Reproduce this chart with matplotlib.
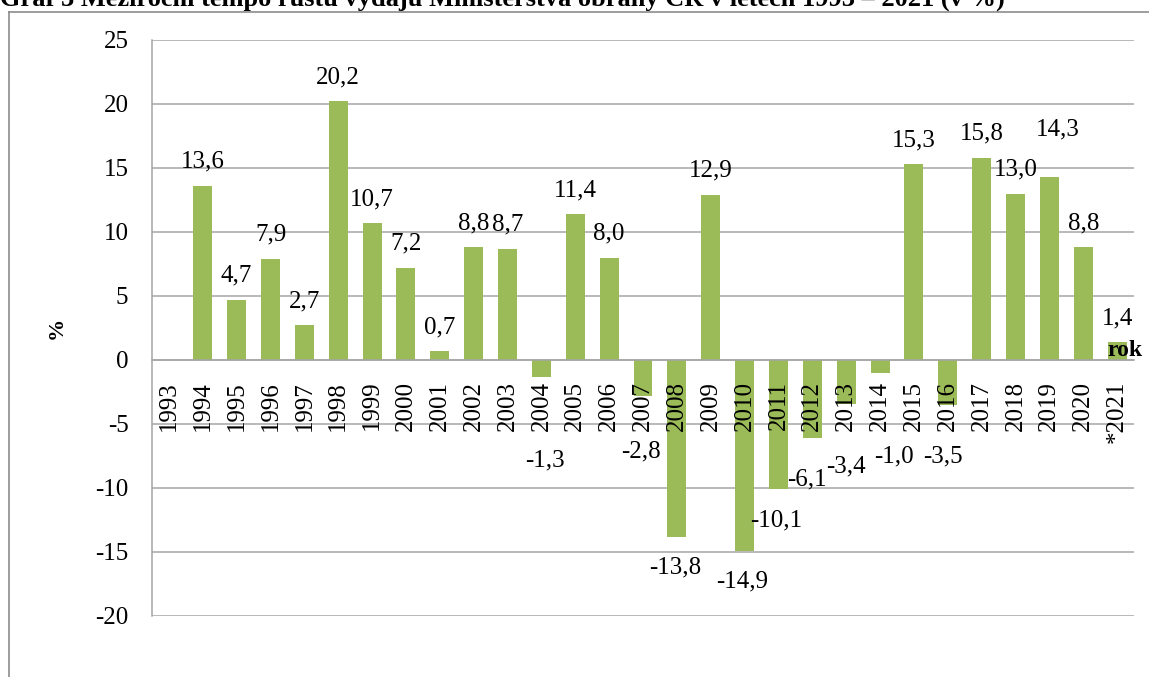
import numpy as np
import matplotlib
matplotlib.use("Agg")
import matplotlib.pyplot as plt
from matplotlib.lines import Line2D

# ---------------- data ----------------
years = ["1993", "1994", "1995", "1996", "1997", "1998", "1999", "2000", "2001",
         "2002", "2003", "2004", "2005", "2006", "2007", "2008", "2009", "2010",
         "2011", "2012", "2013", "2014", "2015", "2016", "2017", "2018", "2019",
         "2020", "*2021"]
values = [np.nan, 13.6, 4.7, 7.9, 2.7, 20.2, 10.7, 7.2, 0.7,
          8.8, 8.7, -1.3, 11.4, 8.0, -2.8, -13.8, 12.9, -14.9,
          -10.1, -6.1, -3.4, -1.0, 15.3, -3.5, 15.8, 13.0, 14.3,
          8.8, 1.4]
y_ticks = [-20, -15, -10, -5, 0, 5, 10, 15, 20, 25]

title = "Graf 3 Meziroční tempo růstu výdajů Ministerstva obrany ČR v letech 1993 – 2021 (v %)"
y_title = "%"
x_title = "rok"

# label offsets (pixels) relative to the bar end, for manually moved labels
label_offsets = {
    "2004": (4, -90), "2007": (-2, -62), "2012": (-5, -47), "2013": (0, -69),
    "2014": (14, -90), "2016": (-5, -58), "2019": (8, 42),
}
POS_OFF = (0, 18)
NEG_OFF = (-2, -37)

# ---------------- style ----------------
W, H = 1149, 677
BAR = "#9BBB59"
GRID = "#A6A6A6"
SERIF = ["Liberation Serif", "DejaVu Serif"]
plt.rcParams["font.family"] = SERIF

fig = plt.figure(figsize=(W / 100, H / 100), dpi=100)
left, right, top, bottom = 152, 1134, 40, 616
ax = fig.add_axes([left / W, (H - bottom) / H, (right - left) / W, (bottom - top) / H])

x = np.arange(len(years))
ax.bar(x, values, width=0.56, color=BAR, zorder=2)

ax.set_xlim(-0.5, len(years) - 0.5)
ax.set_ylim(min(y_ticks), max(y_ticks))

for yv in y_ticks:
    ax.axhline(yv, color=GRID, lw=1.1, zorder=0.5)

for s in ["top", "right"]:
    ax.spines[s].set_visible(False)
ax.spines["left"].set_color(GRID)
ax.spines["left"].set_linewidth(1.1)
ax.spines["bottom"].set_position(("data", 0))
ax.spines["bottom"].set_color(GRID)
ax.spines["bottom"].set_linewidth(1.1)

ax.set_yticks(y_ticks)
ax.set_yticklabels([str(v) for v in y_ticks], fontsize=18)
ax.set_xticks(x)
ax.set_xticklabels(years, rotation=90, fontsize=18)
ax.tick_params(axis="y", length=0, pad=17)
ax.tick_params(axis="x", length=0, pad=15)
ax.xaxis.set_zorder(5)

for xi, yr, v in zip(x, years, values):
    if np.isnan(v):
        continue
    off = label_offsets.get(yr, POS_OFF if v >= 0 else NEG_OFF)
    txt = f"{v:.1f}".replace(".", ",")
    ax.annotate(txt, (xi, v), xytext=off, textcoords="offset pixels",
                ha="center", va="baseline", fontsize=18, zorder=4,
                annotation_clip=False)

# axis titles
fig.text(57 / W, 1 - 328 / H, y_title, rotation=90, ha="center", va="center",
         fontsize=16, fontweight="bold")
fig.text(1107 / W, 1 - 356 / H, x_title, ha="left", va="baseline",
         fontsize=17, fontweight="bold")

# cut-off title at the top
fig.text(0.0, 1 - 6 / H, title, ha="left", va="baseline", fontsize=19,
         fontweight="bold")

# outer chart frame
fig.add_artist(Line2D([8.5 / W, 8.5 / W], [0, 1 - 12 / H], transform=fig.transFigure,
                      color="#8C8C8C", lw=1.2))
fig.add_artist(Line2D([8.5 / W, 1], [1 - 12 / H, 1 - 12 / H], transform=fig.transFigure,
                      color="#8C8C8C", lw=1.2))

fig.savefig("out.png", dpi=100)
